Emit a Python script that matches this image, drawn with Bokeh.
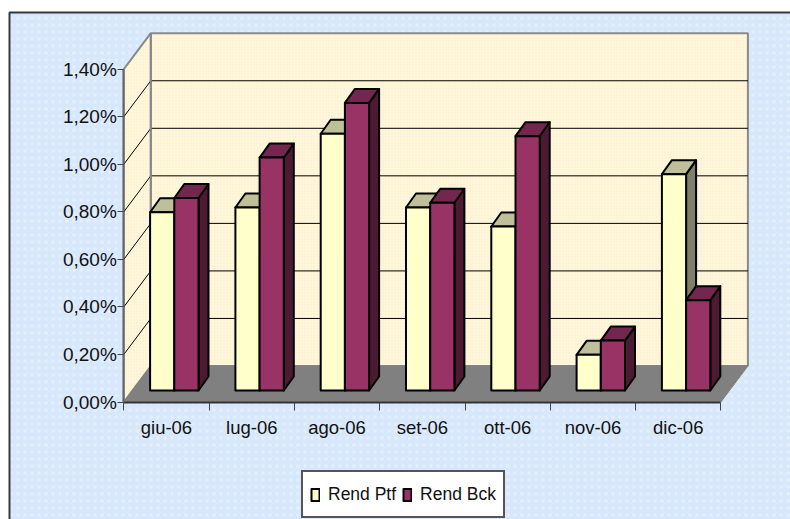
from bokeh.plotting import figure
from bokeh.models import LinearAxis, FixedTicker, Range1d, Legend, LegendItem
from bokeh.embed import file_html
from bokeh.resources import INLINE

months = ["giu-06", "lug-06", "ago-06", "set-06", "ott-06", "nov-06", "dic-06"]
rend_ptf = [0.75, 0.77, 1.08, 0.77, 0.69, 0.15, 0.91]
rend_bck = [0.81, 0.98, 1.21, 0.79, 1.07, 0.21, 0.38]
y_ticks = [0.0, 0.2, 0.4, 0.6, 0.8, 1.0, 1.2, 1.4]
series_names = ["Rend Ptf", "Rend Bck"]

W, H = 790, 519
X_PX, Y_PX = 85.3, 237.7      # pixels per category / per 1 %
X0_PX, Y0_PX = 123.3, 401.5

p = figure(width=W, height=H, output_backend="svg", toolbar_location=None,
           x_axis_type=None, y_axis_type=None, min_border=0,
           x_range=Range1d(-X0_PX / X_PX, (W - X0_PX) / X_PX),
           y_range=Range1d((Y0_PX - H) / Y_PX, Y0_PX / Y_PX))
p.grid.visible = False
p.outline_line_color = None
p.background_fill_color = "#ffffff"
p.border_fill_alpha = 0

# depth of the 3-D box, in data units
DX, DY = 27 / X_PX, 36 / Y_PX
n = len(months)
top = y_ticks[-1]

# chart area
p.quad(left=[(9 - X0_PX) / X_PX], right=[(W + 5 - X0_PX) / X_PX], bottom=[(Y0_PX - H - 5) / Y_PX],
       top=[(Y0_PX - 12) / Y_PX], fill_color="#d8e8fc", line_color="#33383e", line_width=2,
       hatch_pattern="dot", hatch_color="#e8f1fd", hatch_scale=7, hatch_alpha=0.8, hatch_weight=1)

wall_kw = dict(fill_color="#fff8d6", hatch_pattern="dot", hatch_color="#fde2e2", hatch_scale=3,
               hatch_alpha=0.9, hatch_weight=1)
# back wall
p.patch([DX, n + DX, n + DX, DX], [DY, DY, top + DY, top + DY], line_color="#8a8a8a", line_width=2, **wall_kw)
# side wall
p.patch([0, DX, DX, 0], [0, DY, top + DY, top], line_color="#8a8a8a", line_width=2, **wall_kw)
# floor
p.patch([0, n, n + DX, DX], [0, 0, DY, DY], fill_color="#808080", line_color="#808080")

# gridlines along wall and side
for t in y_ticks[1:-1]:
    p.line([0, DX, n + DX], [t, t + DY, t + DY], line_color="#000000", line_width=1)
p.line([DX, DX], [DY, top + DY], line_color="#8a8a8a", line_width=2)

# axes living in the frame
yaxis = LinearAxis(fixed_location=0, bounds=(0, top), ticker=FixedTicker(ticks=y_ticks),
                   major_label_overrides={t: f"{t:.2f}%".replace(".", ",") for t in y_ticks},
                   major_label_text_font="Liberation Sans", major_label_text_font_size="19px",
                   major_label_text_color="#111111", major_label_standoff=1,
                   axis_line_color="#666666", axis_line_width=2, major_tick_line_color="#444444",
                   major_tick_out=6, major_tick_in=0, minor_tick_line_color=None)
p.add_layout(yaxis, "left")
xaxis = LinearAxis(fixed_location=0, bounds=(0, n), ticker=FixedTicker(ticks=list(range(n + 1))),
                   major_label_overrides={i: "" for i in range(n + 1)},
                   axis_line_color="#333333", axis_line_width=2,
                   major_tick_line_color="#444444", major_tick_out=8, major_tick_in=0,
                   minor_tick_line_color=None)
p.add_layout(xaxis, "below")
centers = [i + 0.5 for i in range(n)]
xlabels = LinearAxis(fixed_location=0, ticker=FixedTicker(ticks=centers),
                     major_label_overrides={c: m for c, m in zip(centers, months)},
                     major_label_text_font="Liberation Sans", major_label_text_font_size="18.5px",
                     major_label_text_color="#111111", major_label_standoff=9,
                     axis_line_color=None, major_tick_line_color=None, minor_tick_line_color=None)
p.add_layout(xlabels, "below")

# bars
BASE = 11.5 / Y_PX
START = 26.3 / X_PX
BW = 24.2 / X_PX
BDX, BDY = 10 / X_PX, 14 / Y_PX
FRONTS = ["#ffffcc", "#993366"]
TOPS = ["#bfbf99", "#732650"]
SIDES = ["#80806a", "#4d1a33"]
fronts = []
for i in range(n):
    for j, vals in enumerate([rend_ptf, rend_bck]):
        x0 = i + START + j * BW
        x1 = x0 + BW
        v = vals[i] + BASE
        lk = dict(line_color="#000000", line_width=2, line_join="round")
        p.patch([x1, x1 + BDX, x1 + BDX, x1], [BASE, BASE + BDY, v + BDY, v], fill_color=SIDES[j], **lk)
        p.patch([x0, x1, x1 + BDX, x0 + BDX], [v, v, v + BDY, v + BDY], fill_color=TOPS[j], **lk)
        r = p.quad(left=[x0], right=[x1], bottom=[BASE], top=[v], fill_color=FRONTS[j], **lk)
        if i == 0:
            fronts.append(r)

legend = Legend(items=[LegendItem(label=s, renderers=[r]) for s, r in zip(series_names, fronts)],
                orientation="horizontal", location=(301, 1),
                label_text_font="Liberation Sans", label_text_font_size="17.5px", label_text_color="#111111",
                glyph_width=10, glyph_height=15, label_height=30, label_standoff=8, spacing=6,
                padding=7, margin=0,
                border_line_color="#555555", border_line_width=2, border_line_alpha=1,
                background_fill_color="#ffffff", background_fill_alpha=1)
p.add_layout(legend, "center")

open("out.html", "w").write(file_html(p, INLINE))
